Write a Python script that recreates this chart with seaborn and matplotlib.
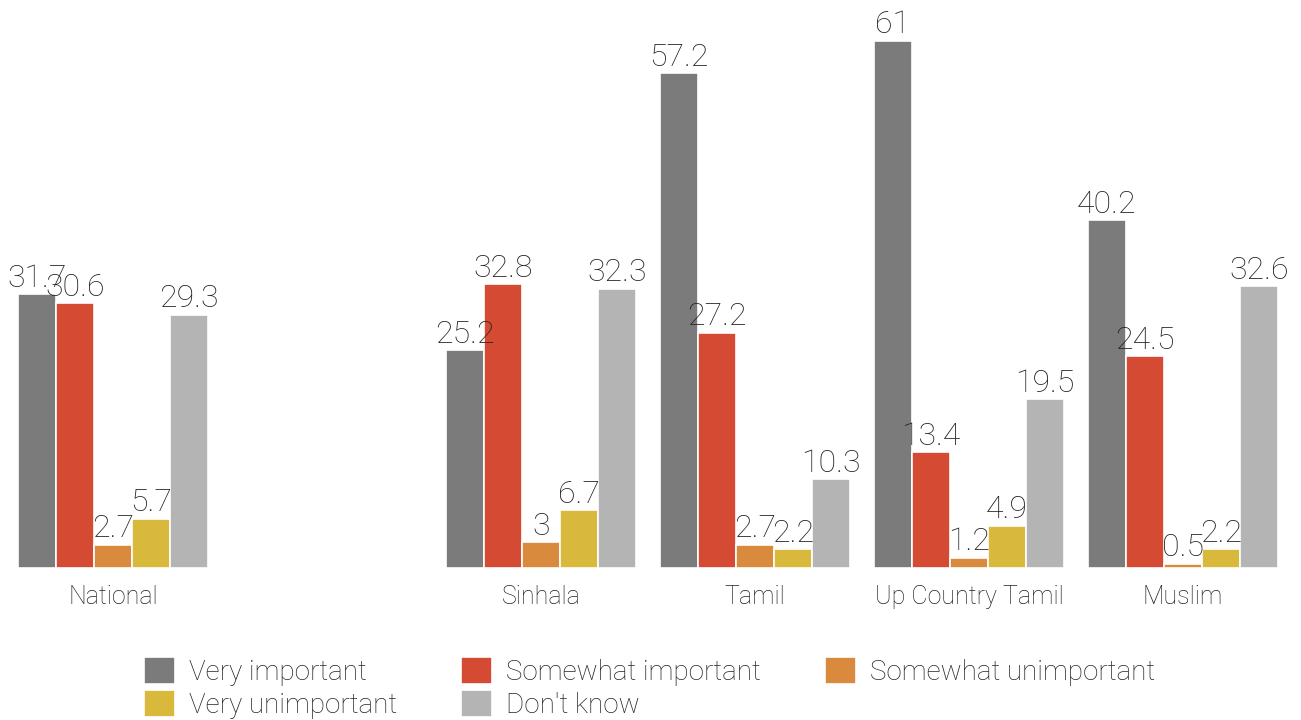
import numpy as np
import pandas as pd
import matplotlib
matplotlib.use("Agg")
import matplotlib.pyplot as plt
import seaborn as sns

GROUPS = ["National", "", "Sinhala", "Tamil", "Up Country Tamil", "Muslim"]
RESPONSES = ["Very important", "Somewhat important", "Somewhat unimportant",
             "Very unimportant", "Don't know"]
COLORS = ["#7b7b7b", "#d54a32", "#d98a3c", "#d8b93c", "#b4b4b4"]

national = [31.7, 30.6, 2.7, 5.7, 29.3]
sinhala = [25.2, 32.8, 3, 6.7, 32.3]
tamil = [57.2, 27.2, 2.7, 2.2, 10.3]
up_country_tamil = [61, 13.4, 1.2, 4.9, 19.5]
muslim = [40.2, 24.5, 0.5, 2.2, 32.6]

VALUES = {
    "National": national,
    "Sinhala": sinhala,
    "Tamil": tamil,
    "Up Country Tamil": up_country_tamil,
    "Muslim": muslim,
}


def build_frame():
    rows = []
    for group, vals in VALUES.items():
        for resp, v in zip(RESPONSES, vals):
            rows.append({"group": group, "response": resp, "value": v})
    return pd.DataFrame(rows)


def main():
    sns.set_style("white")
    plt.rcParams["font.family"] = ["Roboto", "DejaVu Sans"]

    df = build_frame()

    fig = plt.figure(figsize=(13.01, 7.2), dpi=100)
    ax = fig.add_axes([6 / 1301, 152 / 720, 1284 / 1301, 568 / 720])

    sns.barplot(
        data=df, x="group", y="value", hue="response",
        order=GROUPS, hue_order=RESPONSES, palette=COLORS, saturation=1,
        width=0.89, edgecolor="white", linewidth=1.2,
        errorbar=None, ax=ax,
    )

    for container in ax.containers:
        labels = [f"{h:g}" if np.isfinite(h) else "" for h in container.datavalues]
        ax.bar_label(container, labels=labels, padding=1, fontsize=23,
                     fontweight="light", color="#222222")

    ax.set_xlim(-0.5, len(GROUPS) - 0.5)
    ax.set_ylim(0, 65.7)
    ax.set_xlabel("")
    ax.set_ylabel("")
    ax.set_yticks([])
    ax.tick_params(axis="x", length=0, pad=12, labelsize=18, labelcolor="#222222")
    for lbl in ax.get_xticklabels():
        lbl.set_fontweight("light")
    sns.despine(ax=ax, left=True, bottom=True)

    handles, labels = ax.get_legend_handles_labels()
    ax.legend_.remove()
    order = [0, 3, 1, 4, 2]
    fig.legend(
        [handles[i] for i in order], [labels[i] for i in order],
        ncol=3, loc="lower left", bbox_to_anchor=(130 / 1301, -0.018),
        frameon=False, prop={"size": 20, "weight": "light"},
        handlelength=1.12, handleheight=1.15, handletextpad=0.5,
        columnspacing=2.3, labelspacing=0.15, borderaxespad=0.1,
    )

    fig.savefig("out.png", dpi=100)
    plt.close(fig)


if __name__ == "__main__":
    main()
